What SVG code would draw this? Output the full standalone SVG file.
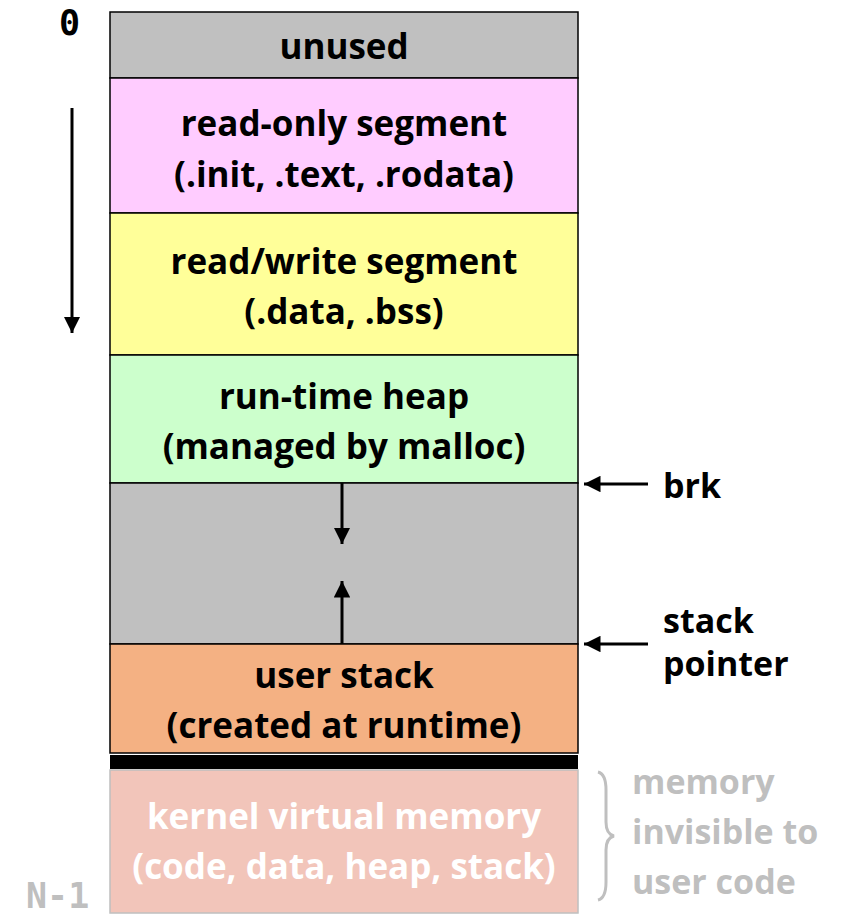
<svg xmlns="http://www.w3.org/2000/svg" width="846" height="915" viewBox="0 0 846 915">
  <defs>
    <marker id="head" viewBox="0 0 10 10" refX="10" refY="5" markerWidth="5.5" markerHeight="5.5" orient="auto">
      <path d="M0,0 L10,5 L0,10 z" fill="#000"/>
    </marker>
    <style>
      .lbl { font-family: "Open Sans", "Liberation Sans", sans-serif; font-weight: bold; font-size: 35px; fill: #000; text-anchor: middle; }
      .side { font-family: "Open Sans", "Liberation Sans", sans-serif; font-weight: bold; font-size: 34px; fill: #000; }
      .grey { fill: #BFBFBF; }
      .white { fill: #FFFFFF; }
      .mono { font-family: "DejaVu Sans Mono", "Liberation Mono", monospace; font-weight: bold; font-size: 35px; }
      .seg { stroke: #000; stroke-width: 1.5; }
      .arrow { stroke: #000; stroke-width: 3; fill: none; marker-end: url(#head); }
    </style>
  </defs>

  <!-- address labels -->
  <text class="mono" x="59" y="35">0</text>
  <text class="mono grey" x="26" y="908">N-1</text>

  <!-- memory segments, top to bottom -->
  <g id="unused">
    <rect x="110" y="12" width="468" height="66" fill="#C0C0C0" class="seg"/>
    <text class="lbl" x="344" y="59">unused</text>
  </g>
  <g id="read-only">
    <rect x="110" y="78" width="468" height="135" fill="#FFCCFF" class="seg"/>
    <text class="lbl" x="344" y="136">read-only segment</text>
    <text class="lbl" x="344" y="187">(.init, .text, .rodata)</text>
  </g>
  <g id="read-write">
    <rect x="110" y="213" width="468" height="142" fill="#FFFF99" class="seg"/>
    <text class="lbl" x="344" y="274">read/write segment</text>
    <text class="lbl" x="344" y="324">(.data, .bss)</text>
  </g>
  <g id="heap">
    <rect x="110" y="355" width="468" height="128" fill="#CCFFCC" class="seg"/>
    <text class="lbl" x="344" y="409">run-time heap</text>
    <text class="lbl" x="344" y="459">(managed by malloc)</text>
  </g>
  <g id="gap">
    <rect x="110" y="483" width="468" height="161" fill="#C0C0C0" class="seg"/>
  </g>
  <g id="user-stack">
    <rect x="110" y="644" width="468" height="109" fill="#F4B183" class="seg"/>
    <text class="lbl" x="344" y="688">user stack</text>
    <text class="lbl" x="344" y="738">(created at runtime)</text>
  </g>
  <g id="boundary">
    <rect x="110" y="755" width="468" height="14" fill="#000"/>
  </g>
  <g id="kernel">
    <rect x="110" y="770" width="468" height="143" fill="#F2C5BA" stroke="#BFBFBF" stroke-width="1.5"/>
    <text class="lbl white" x="344" y="829">kernel virtual memory</text>
    <text class="lbl white" x="344" y="879">(code, data, heap, stack)</text>
  </g>

  <!-- pointer labels -->
  <g id="brk">
    <text class="side" x="663" y="498">brk</text>
  </g>
  <g id="stack-pointer">
    <text class="side" x="663" y="633">stack</text>
    <text class="side" x="663" y="676">pointer</text>
  </g>
  <g id="invisible">
    <path d="M598,772 Q606,774 606,790 L606,822 Q606,834 614,836 Q606,838 606,850 L606,882 Q606,898 598,900" fill="none" stroke="#BFBFBF" stroke-width="3"/>
    <text class="side grey" x="632" y="794">memory</text>
    <text class="side grey" x="632" y="844">invisible to</text>
    <text class="side grey" x="632" y="894">user code</text>
  </g>

  <!-- connectors -->
  <g id="connectors">
    <line class="arrow" x1="72" y1="108" x2="72" y2="333"/>
    <line class="arrow" x1="342" y1="483" x2="342" y2="544"/>
    <line class="arrow" x1="342" y1="644" x2="342" y2="581"/>
    <line class="arrow" x1="648" y1="484" x2="584" y2="484"/>
    <line class="arrow" x1="648" y1="644" x2="584" y2="644"/>
  </g>
</svg>
